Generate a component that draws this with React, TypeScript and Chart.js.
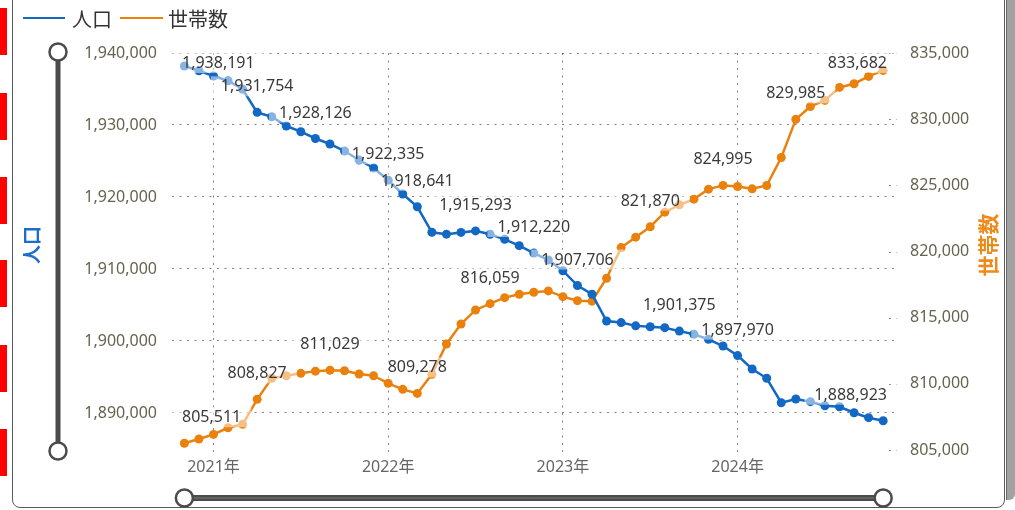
import React, { useEffect, useRef } from 'react';
import { Chart, registerables } from 'chart.js';

Chart.register(...registerables);

// ---- data ----
const months = [
  '2020-11', '2020-12',
  '2021-01', '2021-02', '2021-03', '2021-04', '2021-05', '2021-06', '2021-07', '2021-08', '2021-09', '2021-10', '2021-11', '2021-12',
  '2022-01', '2022-02', '2022-03', '2022-04', '2022-05', '2022-06', '2022-07', '2022-08', '2022-09', '2022-10', '2022-11', '2022-12',
  '2023-01', '2023-02', '2023-03', '2023-04', '2023-05', '2023-06', '2023-07', '2023-08', '2023-09', '2023-10', '2023-11', '2023-12',
  '2024-01', '2024-02', '2024-03', '2024-04', '2024-05', '2024-06', '2024-07', '2024-08', '2024-09', '2024-10', '2024-11',
];

const population = [
  1938191, 1937540, 1936800, 1936150, 1934960, 1931754, 1931150, 1929860, 1929070, 1928126,
  1927360, 1926390, 1925140, 1924030, 1922335, 1920420, 1918641, 1915100, 1914840, 1915080,
  1915293, 1914820, 1914125, 1913240, 1912220, 1911250, 1909760, 1907706, 1906490, 1902780,
  1902560, 1902100, 1901980, 1901850, 1901375, 1900930, 1900236, 1899306, 1897970, 1896110,
  1894820, 1891430, 1891940, 1891570, 1891010, 1890870, 1890040, 1889350, 1888923,
];

const households = [
  805511, 805830, 806180, 806680, 806940, 808827, 810416, 810613, 810794, 810960,
  811029, 810990, 810741, 810613, 810038, 809584, 809278, 810719, 813011, 814523,
  815582, 816059, 816513, 816770, 816921, 817020, 816589, 816286, 816250, 817980,
  820295, 821082, 821870, 822973, 823525, 823956, 824713, 824995, 824909, 824735,
  824985, 827103, 829985, 830961, 831415, 832398, 832678, 833230, 833682,
];

const populationLabelIdx = [0, 5, 9, 14, 16, 20, 24, 27, 34, 38, 48];
const householdLabelIdx = [0, 5, 10, 16, 21, 32, 37, 42, 48];

const populationTicks = [1890000, 1900000, 1910000, 1920000, 1930000, 1940000];
const householdTicks = [805000, 810000, 815000, 820000, 825000, 830000, 835000];

const seriesNames = ['人口', '世帯数'];

// ---- styles ----
const BLUE = '#1268c2';
const ORANGE = '#ea810d';
const BLUE_TITLE = '#1b6fcc';
const ORANGE_TITLE = '#ee8a1a';
const TICK_COLOR = '#67634f';
const XTICK_COLOR = '#666666';
const LABEL_COLOR = '#3a3a3a';
const GRID_COLOR = 'rgba(90,90,90,0.75)';
const GRID_DASH = [2, 5.5];
const SLIDER = '#4b4b4b';
const FONT = '"Noto Sans", "Noto Sans CJK JP", sans-serif';
const CJK = '"Noto Sans CJK JP", "Noto Sans", sans-serif';

const redBarTops = [8, 93, 177, 260, 345, 429];

const yearTickIdx = months
  .map((m, i) => (m.endsWith('-01') ? i : -1))
  .filter((i) => i >= 0);

const fmt = (v: number) => v.toLocaleString('en-US');

const decorPlugin = {
  id: 'decor',
  beforeDatasetsDraw(chart: any) {
    const { ctx, chartArea } = chart;
    const y1 = chart.scales.y1;
    ctx.save();
    ctx.strokeStyle = GRID_COLOR;
    ctx.lineWidth = 1;
    ctx.setLineDash(GRID_DASH);
    householdTicks.forEach((v) => {
      const y = Math.round(y1.getPixelForValue(v)) + 0.5;
      ctx.beginPath();
      ctx.moveTo(chartArea.right - 8, y);
      ctx.lineTo(chartArea.right, y);
      ctx.stroke();
    });
    ctx.restore();
  },
  afterDatasetsDraw(chart: any) {
    const { ctx, chartArea } = chart;
    ctx.save();
    ctx.font = `16px ${FONT}`;
    ctx.textAlign = 'center';
    ctx.textBaseline = 'middle';
    const boxes: { l: number; t: number; w: number; h: number; text: string }[] = [];
    const groups: [number, number[]][] = [
      [0, populationLabelIdx],
      [1, householdLabelIdx],
    ];
    groups.forEach(([di, idxs]) => {
      const meta = chart.getDatasetMeta(di);
      const src = di === 0 ? population : households;
      idxs.forEach((i) => {
        const el = meta.data[i];
        const text = fmt(src[i]);
        const w = ctx.measureText(text).width + 20;
        const h = 20;
        let l = el.x - w / 2;
        l = Math.max(chartArea.left, Math.min(chartArea.right - w, l));
        let t = el.y - 26 - h / 2;
        t = Math.max(chartArea.top, Math.min(chartArea.bottom - h, t));
        boxes.push({ l, t, w, h, text });
      });
    });
    ctx.fillStyle = 'rgba(255,255,255,0.5)';
    boxes.forEach((b) => ctx.fillRect(b.l, b.t, b.w, b.h));
    ctx.fillStyle = LABEL_COLOR;
    boxes.forEach((b) => ctx.fillText(b.text, b.l + b.w / 2, b.t + b.h / 2 + 0.5));
    ctx.restore();
  },
  afterDraw(chart: any) {
    const { ctx, chartArea } = chart;
    const xs = chart.scales.x;
    ctx.save();
    // axis titles
    ctx.font = `bold 19px ${CJK}`;
    ctx.textAlign = 'center';
    ctx.textBaseline = 'middle';
    ctx.fillStyle = BLUE_TITLE;
    ctx.translate(32, 245);
    ctx.rotate(-Math.PI / 2);
    ctx.fillText(seriesNames[0], 0, 0);
    ctx.setTransform(1, 0, 0, 1, 0, 0);
    ctx.font = `bold 21px ${CJK}`;
    ctx.fillStyle = ORANGE_TITLE;
    ctx.translate(988, 245);
    ctx.rotate(-Math.PI / 2);
    ctx.fillText(seriesNames[1], 0, 0);
    ctx.setTransform(1, 0, 0, 1, 0, 0);

    // vertical range slider
    const sx = 58;
    const top = chartArea.top - 1;
    const bot = chartArea.bottom + 1;
    ctx.strokeStyle = SLIDER;
    ctx.lineWidth = 5;
    ctx.beginPath();
    ctx.moveTo(sx, top);
    ctx.lineTo(sx, bot);
    ctx.stroke();
    // horizontal range slider
    const hy = 498;
    const x0 = xs.getPixelForValue(0);
    const x1 = xs.getPixelForValue(months.length - 1);
    ctx.lineWidth = 6;
    ctx.beginPath();
    ctx.moveTo(x0, hy);
    ctx.lineTo(x1, hy);
    ctx.stroke();
    ctx.strokeStyle = '#7d7d7d';
    ctx.lineWidth = 1;
    ctx.beginPath();
    ctx.moveTo(x0, hy);
    ctx.lineTo(x1, hy);
    ctx.stroke();
    const knob = (x: number, y: number) => {
      ctx.beginPath();
      ctx.arc(x, y, 8.5, 0, Math.PI * 2);
      ctx.fillStyle = '#ffffff';
      ctx.fill();
      ctx.strokeStyle = SLIDER;
      ctx.lineWidth = 2.5;
      ctx.stroke();
    };
    knob(sx, top);
    knob(sx, bot);
    knob(x0, hy);
    knob(x1, hy);
    ctx.restore();
  },
};

export default function App() {
  const ref = useRef<HTMLCanvasElement | null>(null);

  useEffect(() => {
    if (!ref.current) return;
    const chart = new Chart(ref.current, {
      type: 'line',
      data: {
        datasets: [
          {
            label: seriesNames[0],
            data: population.map((v, i) => ({ x: i, y: v })),
            yAxisID: 'y',
            borderColor: BLUE,
            backgroundColor: BLUE,
            pointBackgroundColor: BLUE,
            pointBorderWidth: 0,
            pointRadius: 4.5,
            borderWidth: 2.5,
            tension: 0,
          },
          {
            label: seriesNames[1],
            data: households.map((v, i) => ({ x: i, y: v })),
            yAxisID: 'y1',
            borderColor: ORANGE,
            backgroundColor: ORANGE,
            pointBackgroundColor: ORANGE,
            pointBorderWidth: 0,
            pointRadius: 4.5,
            borderWidth: 2.5,
            tension: 0,
          },
        ],
      },
      options: {
        animation: false,
        responsive: false,
        events: [],
        layout: { padding: { top: 53, left: 0, right: 0, bottom: 0 } },
        plugins: {
          legend: { display: false },
          tooltip: { enabled: false },
        },
        scales: {
          x: {
            type: 'linear',
            min: -0.85,
            max: 48.95,
            afterBuildTicks: (s: any) => {
              s.ticks = yearTickIdx.map((v) => ({ value: v }));
            },
            afterFit: (s: any) => {
              s.height = 60;
            },
            ticks: {
              autoSkip: false,
              maxRotation: 0,
              padding: 3,
              color: XTICK_COLOR,
              font: { family: FONT, size: 16 },
              callback: (v: any) => months[Number(v)].slice(0, 4) + '年',
            },
            grid: {
              color: GRID_COLOR,
              lineWidth: 1,
              tickLength: 5,
              tickBorderDash: GRID_DASH,
            },
            border: { display: false, dash: GRID_DASH },
          },
          y: {
            type: 'linear',
            position: 'left',
            min: 1884860,
            max: 1940000,
            afterBuildTicks: (s: any) => {
              s.ticks = populationTicks.map((v) => ({ value: v }));
            },
            afterFit: (s: any) => {
              s.width = 172;
            },
            ticks: {
              padding: 15,
              color: TICK_COLOR,
              font: { family: FONT, size: 16 },
              callback: (v: any) => fmt(Number(v)),
            },
            grid: { color: GRID_COLOR, lineWidth: 1, drawTicks: false },
            border: { display: false, dash: GRID_DASH },
          },
          y1: {
            type: 'linear',
            position: 'right',
            min: 805000,
            max: 835000,
            afterBuildTicks: (s: any) => {
              s.ticks = householdTicks.map((v) => ({ value: v }));
            },
            afterFit: (s: any) => {
              s.width = 118;
            },
            ticks: {
              padding: 13,
              color: TICK_COLOR,
              font: { family: FONT, size: 16 },
              callback: (v: any) => fmt(Number(v)),
            },
            grid: { display: false, drawTicks: false },
            border: { display: false },
          },
        },
      },
      plugins: [decorPlugin],
    } as any);
    return () => chart.destroy();
  }, []);

  return (
    <div
      style={{
        position: 'fixed',
        left: 0,
        top: 0,
        width: 1015,
        height: 510,
        overflow: 'hidden',
        background: '#ffffff',
      }}
    >
      {redBarTops.map((t) => (
        <div
          key={t}
          style={{ position: 'absolute', left: 0, top: t, width: 7, height: 47, background: '#ff0000' }}
        />
      ))}
      <div
        style={{
          position: 'absolute',
          left: 12,
          top: -20,
          width: 993,
          height: 528,
          border: '1px solid #5a5a5a',
          borderRadius: 8,
          boxSizing: 'border-box',
        }}
      />
      <div
        style={{
          position: 'absolute',
          left: 1006,
          top: 0,
          width: 9,
          height: 500,
          background: '#a2a2a2',
          borderLeft: '1px solid #6a6a6a',
          borderBottomRightRadius: 6,
          boxSizing: 'border-box',
        }}
      />
      <canvas
        ref={ref}
        width={1015}
        height={510}
        style={{ position: 'absolute', left: 0, top: 0, width: 1015, height: 510 }}
      />
      <div
        style={{
          position: 'absolute',
          left: 23,
          top: 4,
          height: 28,
          display: 'flex',
          alignItems: 'center',
          fontFamily: CJK,
          fontSize: 20,
          color: '#333333',
          whiteSpace: 'nowrap',
        }}
      >
        <span style={{ display: 'inline-block', width: 42, height: 2, background: BLUE }} />
        <span style={{ marginLeft: 7, marginRight: 8 }}>{seriesNames[0]}</span>
        <span style={{ display: 'inline-block', width: 43, height: 2, background: ORANGE }} />
        <span style={{ marginLeft: 5 }}>{seriesNames[1]}</span>
      </div>
    </div>
  );
}
